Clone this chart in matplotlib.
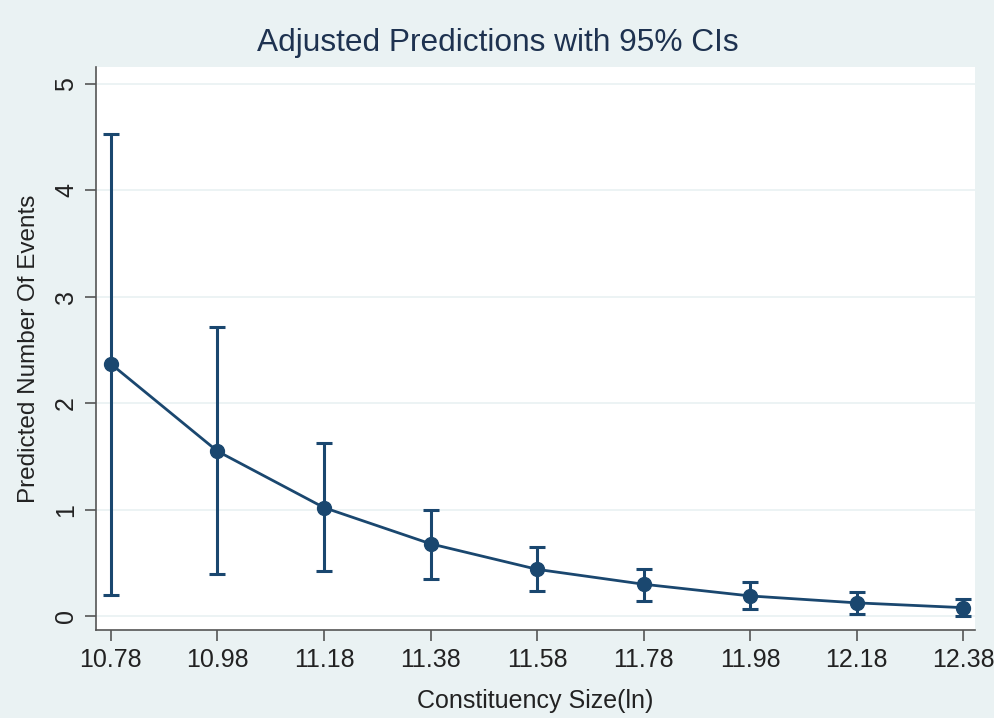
import matplotlib
matplotlib.use("Agg")
import matplotlib.pyplot as plt
import numpy as np

# valori
size_ln = [10.78, 10.98, 11.18, 11.38, 11.58, 11.78, 11.98, 12.18, 12.38]
pred = [2.37, 1.55, 1.02, 0.68, 0.44, 0.30, 0.19, 0.125, 0.08]
ci_low = [0.20, 0.40, 0.42, 0.35, 0.24, 0.14, 0.07, 0.02, 0.00]
ci_high = [4.53, 2.72, 1.63, 1.00, 0.65, 0.44, 0.32, 0.23, 0.16]
xtick_labels = ["10.78", "10.98", "11.18", "11.38", "11.58", "11.78",
                "11.98", "12.18", "12.38"]
yticks = [0, 1, 2, 3, 4, 5]

NAVY = "#1a476f"
BG = "#eaf2f3"
plt.rcParams["font.family"] = ["Liberation Sans", "DejaVu Sans"]

W, H = 995, 718
fig = plt.figure(figsize=(W / 100, H / 100), dpi=100, facecolor=BG)
ax = fig.add_axes([96 / W, (H - 630) / H, (975 - 96) / W, (630 - 67) / H])
ax.set_facecolor("white")

x = np.array(size_ln)
y = np.array(pred)
yerr = np.vstack([y - np.array(ci_low), np.array(ci_high) - y])

ax.errorbar(x, y, yerr=yerr, fmt="none", ecolor=NAVY, elinewidth=2.2,
            capsize=6, capthick=2.2, zorder=2)
ax.plot(x, y, "-o", color=NAVY, lw=2, ms=10, zorder=3)

ax.set_xlim(10.752, 12.402)
ax.set_ylim(-0.13, 5.16)
ax.set_xticks(size_ln)
ax.set_xticklabels(xtick_labels)
ax.set_yticks(yticks)
ax.set_yticklabels([str(v) for v in yticks], rotation=90, va="center")
ax.grid(axis="y", color=BG, lw=1.3, zorder=0)
ax.set_axisbelow(True)

for s in ["top", "right"]:
    ax.spines[s].set_visible(False)
for s in ["left", "bottom"]:
    ax.spines[s].set_color("#555555")
    ax.spines[s].set_linewidth(1.2)
ax.tick_params(axis="both", direction="out", length=8, width=1.2,
               color="#555555", labelsize=18, labelcolor="#222222", pad=5)

ax.set_xlabel("Constituency Size(ln)", fontsize=18, color="#222222", labelpad=12)
ax.set_ylabel("Predicted Number Of Events", fontsize=17.5, color="#222222", labelpad=10)
fig.suptitle("Adjusted Predictions with 95% CIs", fontsize=22.8, color="#1e3250",
             y=1 - 43 / H, va="center")

fig.savefig("out.png", dpi=100, facecolor=BG)
